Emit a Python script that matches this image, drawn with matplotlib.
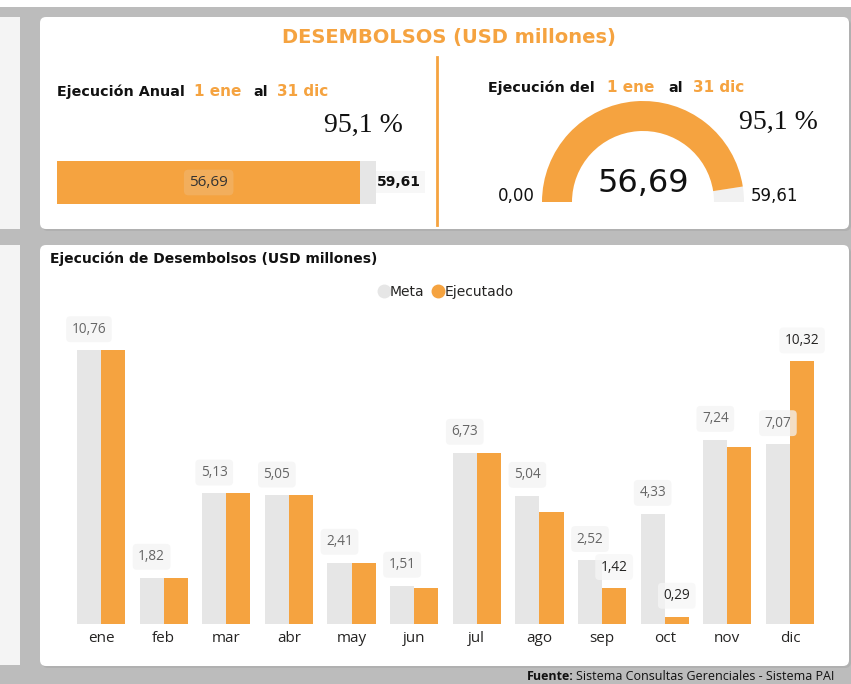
import numpy as np
import matplotlib.pyplot as plt
from matplotlib.patches import FancyBboxPatch, Rectangle, Wedge
from matplotlib.lines import Line2D

# monthly disbursements, USD millions
meses = ['ene', 'feb', 'mar', 'abr', 'may', 'jun', 'jul', 'ago', 'sep', 'oct', 'nov', 'dic']
meta = [10.76, 1.82, 5.13, 5.05, 2.41, 1.51, 6.73, 5.04, 2.52, 4.33, 7.24, 7.07]
ejecutado = [10.76, 1.82, 5.13, 5.05, 2.41, 1.43, 6.73, 4.38, 1.42, 0.29, 6.95, 10.32]
# months where the Ejecutado label is visible
etiquetas_ejec = ['sep', 'oct', 'dic']

total_meta = sum(meta)
total_ejec = sum(ejecutado)
pct = total_ejec / total_meta * 100

NARANJA = '#F5A340'
GRIS = '#E6E6E6'
W, H = 851, 684


def fmt(v, d=2):
    return f'{v:.{d}f}'.replace('.', ',')


def Y(py):
    # pixel row from the top -> overlay coordinate
    return H - py


fig = plt.figure(figsize=(W / 100, H / 100), dpi=100)
fig.patch.set_facecolor('#bcbcbc')

bg = fig.add_axes([0, 0, 1, 1])
bg.set_xlim(0, W)
bg.set_ylim(0, H)
bg.axis('off')

# white strip at the very top + panels
bg.add_patch(Rectangle((0, Y(7)), W, 7, fc='white', ec='none'))
bg.add_patch(Rectangle((0, Y(229)), 20, 212, fc='#f4f4f4', ec='none'))
bg.add_patch(Rectangle((0, Y(665)), 20, 420, fc='#f4f4f4', ec='none'))
for x0, y0, x1, y1 in [(40, 17, 849, 229), (40, 245, 849, 666)]:
    bg.add_patch(FancyBboxPatch((x0 + 2, Y(y1) - 2), x1 - x0, y1 - y0,
                                boxstyle='round,pad=0,rounding_size=6',
                                fc='#a8a8a8', ec='none', alpha=0.6))
    bg.add_patch(FancyBboxPatch((x0, Y(y1)), x1 - x0, y1 - y0,
                                boxstyle='round,pad=0,rounding_size=6',
                                fc='white', ec='none'))

# header
bg.text(449, Y(38), 'DESEMBOLSOS (USD millones)', color=NARANJA, fontsize=14,
        fontweight='bold', ha='center', va='center')
bg.plot([437, 437], [Y(57), Y(225)], color=NARANJA, lw=2)

# left block: annual execution
bg.text(57, Y(92), 'Ejecución Anual', fontsize=10.3, fontweight='bold', color='#111111', va='center')
bg.text(194, Y(91), '1 ene', fontsize=11, fontweight='bold', color=NARANJA, va='center')
bg.text(253, Y(92), 'al', fontsize=10.3, fontweight='bold', color='#111111', va='center')
bg.text(277, Y(91), '31 dic', fontsize=11, fontweight='bold', color=NARANJA, va='center')
bg.text(403, Y(125), f'{fmt(pct, 1)} %', fontsize=20, family='Liberation Serif',
        color='#111111', ha='right', va='center')

axp = fig.add_axes([57 / W, Y(204) / H, (376 - 57) / W, 43 / H])
axp.barh(0, total_meta, height=1, color=GRIS)
axp.barh(0, total_ejec, height=1, color=NARANJA)
axp.set_xlim(0, total_meta)
axp.set_ylim(-0.5, 0.5)
axp.axis('off')
axp.text(total_ejec / 2, 0, fmt(total_ejec), fontsize=11, family='Open Sans', color='#333333',
         ha='center', va='center',
         bbox=dict(boxstyle='round,pad=0.35,rounding_size=0.3', fc='#F2AE5C', ec='none'))
bg.text(377, Y(182), fmt(total_meta), fontsize=10, fontweight='bold', color='#111111',
        ha='left', va='center',
        bbox=dict(boxstyle='square,pad=0.3', fc='#f7f7f7', ec='none'))

# right block: gauge
bg.text(488, Y(88), 'Ejecución del', fontsize=10.3, fontweight='bold', color='#111111', va='center')
bg.text(607, Y(87), '1 ene', fontsize=11, fontweight='bold', color=NARANJA, va='center')
bg.text(668, Y(88), 'al', fontsize=10.3, fontweight='bold', color='#111111', va='center')
bg.text(693, Y(87), '31 dic', fontsize=11, fontweight='bold', color=NARANJA, va='center')
bg.text(818, Y(122), f'{fmt(pct, 1)} %', fontsize=20, family='Liberation Serif',
        color='#111111', ha='right', va='center')

cx, cy, r_out, r_in = 643, Y(202), 101, 71
ang = 180 - 180 * total_ejec / total_meta
bg.add_patch(Wedge((cx, cy), r_out, 0, ang, width=r_out - r_in, fc='#F1F1F1', ec='none'))
bg.add_patch(Wedge((cx, cy), r_out, ang, 180, width=r_out - r_in, fc=NARANJA, ec='none'))
bg.text(cx, Y(183), fmt(total_ejec), fontsize=23, color='#111111', ha='center', va='center')
bg.text(535, Y(196), fmt(0), fontsize=12, color='#111111', ha='right', va='center')
bg.text(751, Y(196), fmt(total_meta), fontsize=12, color='#111111', ha='left', va='center')

# bottom panel
bg.text(50, Y(259), 'Ejecución de Desembolsos (USD millones)', fontsize=10,
        fontweight='bold', color='#111111', va='center')
handles = [Line2D([], [], marker='o', ls='none', ms=9, color=GRIS, label='Meta'),
           Line2D([], [], marker='o', ls='none', ms=9, color=NARANJA, label='Ejecutado')]
fig.legend(handles=handles, loc='center', bbox_to_anchor=(446 / W, Y(292) / H), ncol=2,
           frameon=False, handletextpad=0.05, columnspacing=0.6, handlelength=0.8,
           prop={'size': 10}, labelcolor='#252423')

ax = fig.add_axes([69.7 / W, Y(624) / H, (821.3 - 69.7) / W, 324 / H])
x = np.arange(len(meses))
w = 0.385
ax.bar(x - w / 2, meta, width=w, color=GRIS, zorder=2)
ax.bar(x + w / 2, ejecutado, width=w, color=NARANJA, zorder=2)
ax.set_xlim(-0.5, len(meses) - 0.5)
ax.set_ylim(0, 324 / 25.46)
for s in ax.spines.values():
    s.set_visible(False)
ax.set_yticks([])
ax.set_xticks(x)
ax.set_xticklabels(meses, fontsize=11, family='Open Sans', color='#252423')
ax.tick_params(axis='x', length=0, pad=5)

for i, v in enumerate(meta):
    ax.annotate(fmt(v), (x[i] - w / 2, v), xytext=(0, 15), textcoords='offset points',
                ha='center', va='center', fontsize=9.8, family='Open Sans', color='#666666',
                zorder=3,
                bbox=dict(boxstyle='round,pad=0.4,rounding_size=0.3', fc='#f3f3f3',
                          ec='none', alpha=0.75))
for i, m in enumerate(meses):
    if m in etiquetas_ejec:
        v = ejecutado[i]
        ax.annotate(fmt(v), (x[i] + w / 2, v), xytext=(0, 15), textcoords='offset points',
                    ha='center', va='center', fontsize=9.8, family='Open Sans',
                    color='#252423', zorder=3,
                    bbox=dict(boxstyle='round,pad=0.4,rounding_size=0.3', fc='#f6f6f6',
                              ec='none', alpha=0.75))

# footer
bg.text(527, Y(676), 'Fuente:', fontsize=9, fontweight='bold', family='Open Sans',
        color='#111111', va='center')
bg.text(576, Y(676), 'Sistema Consultas Gerenciales - Sistema PAI', fontsize=9,
        family='Open Sans', color='#111111', va='center')

fig.savefig('out.png', dpi=100, facecolor=fig.get_facecolor())
